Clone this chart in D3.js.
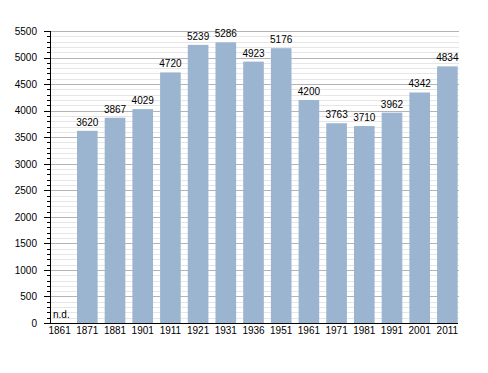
<!DOCTYPE html>
<html><head><meta charset="utf-8">
<script src="https://cdn.jsdelivr.net/npm/d3@7"></script>
<style>body{margin:0;background:#fff}svg{display:block}text{font-family:"Liberation Sans",Arial,sans-serif}</style>
</head><body><svg id="c" width="488" height="373"></svg>
<script>
const years = ["1861","1871","1881","1901","1911","1921","1931","1936","1951","1961","1971","1981","1991","2001","2011"];
const population = [null,3620,3867,4029,4720,5239,5286,4923,5176,4200,3763,3710,3962,4342,4834];
const yTicks = [0,500,1000,1500,2000,2500,3000,3500,4000,4500,5000,5500];

const svg = d3.select("#c");
const x0 = 50, y0 = 323, yTop = 31;
const x = d3.scaleBand().domain(years).range([49.3, 457.7]).paddingInner(0.255).paddingOuter(0).align(0);
const y = d3.scaleLinear().domain([0,5500]).range([y0, yTop]);
const xEnd = 459;
const fs = 10;

// grid
const minor = d3.range(0, 5501, 100).filter(v => v % 500 !== 0);
svg.append("g").selectAll("line").data(minor).join("line")
  .attr("x1", x0 + 1).attr("x2", xEnd).attr("y1", d => Math.round(y(d)) + 0.5).attr("y2", d => Math.round(y(d)) + 0.5)
  .attr("stroke", "#e6e6e6").attr("stroke-width", 1);
svg.append("g").selectAll("line").data(yTicks.filter(v => v > 0)).join("line")
  .attr("x1", x0 + 1).attr("x2", xEnd).attr("y1", d => Math.round(y(d)) + 0.5).attr("y2", d => Math.round(y(d)) + 0.5)
  .attr("stroke", "#b4b4b4").attr("stroke-width", 1);

// bars
const data = years.map((yr, i) => ({yr, v: population[i]}));
svg.append("g").selectAll("rect").data(data.filter(d => d.v != null)).join("rect")
  .attr("x", d => x(d.yr)).attr("width", x.bandwidth())
  .attr("y", d => y(d.v)).attr("height", d => y0 - y(d.v))
  .attr("fill", "#9bb5d0");

// value labels
svg.append("g").selectAll("text").data(data).join("text")
  .attr("x", d => d.v == null ? x0 + 3 : x(d.yr) + x.bandwidth() / 2)
  .attr("y", d => d.v == null ? y0 - 5 : y(d.v) - 5)
  .attr("text-anchor", d => d.v == null ? "start" : "middle")
  .attr("font-size", fs).attr("fill", "#000")
  .text(d => d.v == null ? "n.d." : d.v);

// y axis
const ax = svg.append("g");
ax.append("line").attr("x1", x0 + 0.5).attr("x2", x0 + 0.5).attr("y1", yTop).attr("y2", y0 + 1).attr("stroke", "#000");
ax.selectAll("line.mn").data(minor).join("line").attr("class", "mn")
  .attr("x1", x0 - 3).attr("x2", x0).attr("y1", d => Math.round(y(d)) + 0.5).attr("y2", d => Math.round(y(d)) + 0.5).attr("stroke", "#000");
ax.selectAll("line.mj").data(yTicks).join("line").attr("class", "mj")
  .attr("x1", x0 - 6).attr("x2", x0).attr("y1", d => Math.round(y(d)) + 0.5).attr("y2", d => Math.round(y(d)) + 0.5).attr("stroke", "#000");
ax.selectAll("text").data(yTicks).join("text")
  .attr("x", 37).attr("y", d => y(d) + 3.8).attr("text-anchor", "end").attr("font-size", fs).text(d => d);

// x axis
svg.append("line").attr("x1", x0).attr("x2", xEnd - 1).attr("y1", y0 + 0.5).attr("y2", y0 + 0.5).attr("stroke", "#000");
svg.append("g").selectAll("text").data(years).join("text")
  .attr("x", d => x(d) + x.bandwidth() / 2).attr("y", y0 + 11).attr("text-anchor", "middle").attr("font-size", fs).text(d => d);
</script></body></html>
